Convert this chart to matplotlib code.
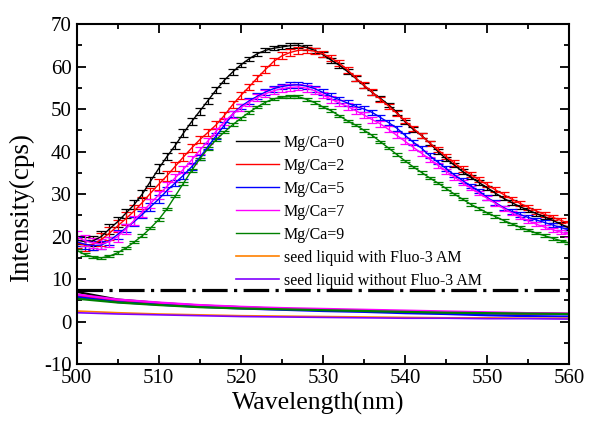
import matplotlib
matplotlib.use("Agg")
import matplotlib.pyplot as plt
import numpy as np

plt.rcParams['font.family'] = ['Liberation Serif', 'DejaVu Serif']
plt.rcParams['axes.unicode_minus'] = False

# wavelength grid (nm), 1 nm steps
wavelength = np.arange(500, 561)

mgca0 = [19.2, 18.8, 19.0, 20.0, 21.8, 23.5, 25.5, 27.5, 30.0, 33.0,
         36.0, 38.8, 41.4, 44.3, 47.0, 49.5, 52.0, 54.5, 56.8, 58.7,
         60.4, 61.8, 63.0, 63.8, 64.3, 64.6, 64.9, 65.0, 64.5, 63.8,
         62.8, 61.5, 60.3, 58.8, 57.2, 55.5, 53.9, 52.5, 51.0, 49.2,
         47.0, 45.2, 43.8, 42.0, 40.0, 38.3, 36.8, 35.3, 34.0, 32.7,
         31.5, 30.2, 29.0, 28.0, 27.0, 26.2, 25.4, 24.6, 23.8, 22.9, 22.0]
mgca2 = [18.5, 18.0, 18.2, 19.3, 20.8, 22.5, 24.2, 26.0, 28.0, 30.2,
         32.3, 34.3, 36.5, 38.7, 40.8, 42.8, 44.5, 46.3, 48.5, 51.0,
         53.2, 55.2, 57.3, 59.3, 61.2, 62.5, 63.3, 63.8, 63.9, 63.6,
         63.0, 62.0, 60.8, 59.2, 57.3, 55.6, 54.0, 52.3, 50.7, 49.0,
         47.2, 45.5, 43.7, 42.0, 40.4, 38.8, 37.3, 35.9, 34.6, 33.4,
         32.2, 31.0, 29.9, 28.8, 27.8, 26.9, 26.0, 25.2, 24.5, 23.8, 23.1]
mgca5 = [18.8, 18.2, 17.9, 18.0, 19.0, 20.5, 22.0, 23.5, 25.2, 27.0,
         28.8, 30.8, 32.6, 34.4, 36.4, 38.6, 41.2, 43.7, 46.2, 48.8,
         50.6, 51.9, 53.0, 54.0, 54.8, 55.3, 55.6, 55.7, 55.4, 54.8,
         53.9, 53.0, 52.2, 51.4, 50.6, 50.0, 49.2, 48.0, 46.8, 45.5,
         43.8, 42.2, 40.8, 39.0, 37.5, 36.0, 34.5, 33.2, 31.9, 30.7,
         29.2, 28.0, 26.8, 25.9, 25.2, 24.5, 23.9, 23.3, 22.7, 22.1, 21.6]
mgca7 = [20.0, 19.0, 18.5, 18.3, 18.8, 20.0, 21.8, 23.8, 25.8, 27.8,
         29.8, 31.8, 33.8, 35.8, 38.0, 40.3, 42.5, 44.8, 47.0, 48.8,
         50.3, 51.6, 52.7, 53.6, 54.3, 54.8, 55.1, 55.2, 54.9, 54.3,
         53.3, 52.3, 51.4, 50.6, 49.6, 48.6, 47.5, 46.5, 45.2, 43.8,
         42.4, 41.0, 39.6, 38.2, 36.8, 35.4, 34.0, 32.7, 31.4, 30.2,
         29.0, 27.8, 26.6, 25.6, 24.6, 23.7, 22.9, 22.2, 21.6, 21.0, 20.5]
mgca9 = [16.8, 15.8, 15.2, 15.0, 15.4, 16.2, 17.3, 18.7, 20.2, 22.0,
         24.0, 26.5, 29.5, 32.5, 35.5, 38.3, 40.7, 42.8, 44.6, 46.3,
         47.8, 49.2, 50.5, 51.6, 52.4, 52.8, 52.9, 52.9, 52.3, 51.5,
         50.5, 49.6, 48.4, 47.2, 46.2, 45.0, 43.8, 42.3, 40.8, 39.3,
         37.8, 36.4, 35.1, 33.8, 32.6, 31.3, 30.0, 28.8, 27.6, 26.6,
         25.6, 24.7, 23.8, 23.0, 22.2, 21.5, 20.8, 20.2, 19.6, 19.0, 18.5]

err0 = [1.0, 1.0, 1.1, 1.2, 1.2, 1.2, 1.1, 1.1, 1.0, 1.0,
        1.0, 0.9, 0.9, 0.9, 0.8, 0.8, 0.7, 0.7, 0.6, 0.6,
        0.5, 0.5, 0.5, 0.5, 0.5, 0.5, 0.6, 0.6, 0.6, 0.6,
        0.6, 0.6, 0.6, 0.6, 0.6, 0.6, 0.6, 0.5, 0.5, 0.5,
        0.5, 0.5, 0.5, 0.5, 0.5, 0.5, 0.5, 0.5, 0.5, 0.5,
        0.5, 0.5, 0.5, 0.5, 0.5, 0.5, 0.5, 0.5, 0.5, 0.5, 0.5]
err2 = [1.2, 1.3, 1.4, 1.5, 1.5, 1.5, 1.5, 1.4, 1.4, 1.3,
        1.3, 1.2, 1.1, 1.0, 1.0, 0.9, 0.9, 0.9, 0.9, 0.8,
        0.8, 0.8, 0.8, 0.8, 0.8, 0.8, 0.8, 0.8, 0.8, 0.7,
        0.7, 0.7, 0.7, 0.7, 0.7, 0.7, 0.7, 0.6, 0.6, 0.6,
        0.6, 0.6, 0.6, 0.6, 0.6, 0.6, 0.6, 0.6, 0.6, 0.6,
        0.6, 0.6, 0.6, 0.6, 0.6, 0.6, 0.6, 0.6, 0.6, 0.6, 0.6]
err5 = [1.0, 1.0, 1.0, 1.0, 1.0, 1.0, 1.0, 1.0, 0.9, 0.9,
        0.9, 0.9, 0.8, 0.8, 0.8, 0.7, 0.7, 0.7, 0.7, 0.7,
        0.7, 0.7, 0.7, 0.7, 0.7, 0.7, 0.7, 0.7, 0.7, 0.7,
        0.7, 0.7, 0.7, 0.7, 0.7, 0.7, 0.6, 0.6, 0.6, 0.6,
        0.6, 0.6, 0.6, 0.6, 0.5, 0.5, 0.5, 0.5, 0.5, 0.5,
        0.5, 0.5, 0.5, 0.5, 0.5, 0.5, 0.5, 0.5, 0.5, 0.5, 0.5]
err7 = [1.4, 1.3, 1.2, 1.2, 1.2, 1.2, 1.2, 1.1, 1.1, 1.1,
        1.0, 1.0, 1.0, 0.9, 0.9, 0.8, 0.8, 0.8, 0.8, 0.8,
        0.8, 0.8, 0.8, 0.8, 0.8, 0.8, 0.8, 0.8, 0.8, 0.8,
        0.8, 0.8, 0.8, 0.8, 0.8, 0.8, 0.7, 0.7, 0.7, 0.7,
        0.7, 0.7, 0.6, 0.6, 0.6, 0.6, 0.6, 0.6, 0.5, 0.5,
        0.5, 0.5, 0.5, 0.5, 0.5, 0.5, 0.5, 0.5, 0.5, 0.5, 0.5]
err9 = [0.3] * 61

# background spectra (unlabelled) and seed liquid, 5 nm steps
bg_wl = np.arange(500, 561, 5)
bg0 = [7.0, 5.2, 4.4, 3.8, 3.4, 3.0, 2.8, 2.6, 2.4, 2.2, 2.0, 1.9, 1.8]
bg2 = [6.2, 5.0, 4.3, 3.7, 3.3, 3.0, 2.8, 2.6, 2.4, 2.2, 2.0, 1.9, 1.8]
bg5 = [5.8, 4.6, 4.0, 3.5, 3.1, 2.8, 2.5, 2.3, 2.0, 1.8, 1.5, 1.3, 1.2]
bg7 = [6.4, 5.2, 4.5, 3.9, 3.5, 3.2, 3.0, 2.8, 2.6, 2.4, 2.2, 2.0, 1.9]
bg9 = [5.4, 4.5, 3.9, 3.4, 3.1, 2.9, 2.7, 2.5, 2.3, 2.1, 2.0, 1.9, 1.8]
seed_with = [2.5, 2.1, 1.8, 1.6, 1.4, 1.3, 1.2, 1.1, 1.0, 0.9, 0.9, 0.8, 0.8]
seed_without = [2.1, 1.8, 1.6, 1.4, 1.2, 1.1, 1.0, 0.9, 0.8, 0.8, 0.7, 0.7, 0.6]
threshold = 7.4

labels = ['Mg/Ca=0', 'Mg/Ca=2', 'Mg/Ca=5', 'Mg/Ca=7', 'Mg/Ca=9',
          'seed liquid with Fluo-3 AM', 'seed liquid without Fluo-3 AM']
colors = ['black', '#FF0000', '#0000FF', '#FF00FF', '#008000', '#FF8000', '#8000FF']

fig = plt.figure(figsize=(5.89, 4.21), dpi=100)
ax = fig.add_axes([0.130, 0.135, 0.8366, 0.808])

series = [mgca0, mgca2, mgca5, mgca7, mgca9]
errs = [err0, err2, err5, err7, err9]
bgs = [bg0, bg2, bg5, bg7, bg9]

handles = []
for s, e, bg, c, lab in zip(series, errs, bgs, colors, labels):
    ax.plot(bg_wl, bg, color=c, lw=1.6)
    ax.errorbar(wavelength, s, yerr=e, color=c, lw=1.0, elinewidth=0.9,
                capsize=3.5, capthick=0.9)
    h, = ax.plot([], [], color=c, lw=1.0, label=lab)
    handles.append(h)

h, = ax.plot(bg_wl, seed_with, color=colors[5], lw=1.2, label=labels[5])
handles.append(h)
h, = ax.plot(bg_wl, seed_without, color=colors[6], lw=1.2, label=labels[6])
handles.append(h)

ax.axhline(threshold, color='black', lw=2.3, linestyle=(0, (8, 2, 1, 2)))

ax.set_xlim(500, 560)
ax.set_ylim(-10, 70)
ax.set_xticks(np.arange(500, 561, 10))
ax.set_xticks(np.arange(505, 561, 10), minor=True)
ax.set_yticks(np.arange(-10, 71, 10))
ax.set_yticks(np.arange(-5, 71, 10), minor=True)
ax.tick_params(which='both', direction='in', top=True, right=True, width=1.3)
ax.tick_params(which='major', length=6.5, labelsize=15)
ax.tick_params(which='minor', length=3.5)
ax.tick_params(axis='x', labeltop=False, pad=3.5)
for sp in ax.spines.values():
    sp.set_linewidth(1.5)

ax.set_xlabel('Wavelength(nm)', fontsize=18.5)
ax.set_ylabel('Intensity(cps)', fontsize=19.5)
ax.xaxis.set_label_coords(0.49, -0.082)
ax.yaxis.set_label_coords(-0.087, 0.46)

ax.legend(handles=handles, loc='upper left', bbox_to_anchor=(0.323, 0.675),
          frameon=False, fontsize=11.5, borderpad=0, borderaxespad=0,
          handlelength=2.7, handletextpad=0.3, labelspacing=0.44)

fig.savefig('out.png', dpi=100)
